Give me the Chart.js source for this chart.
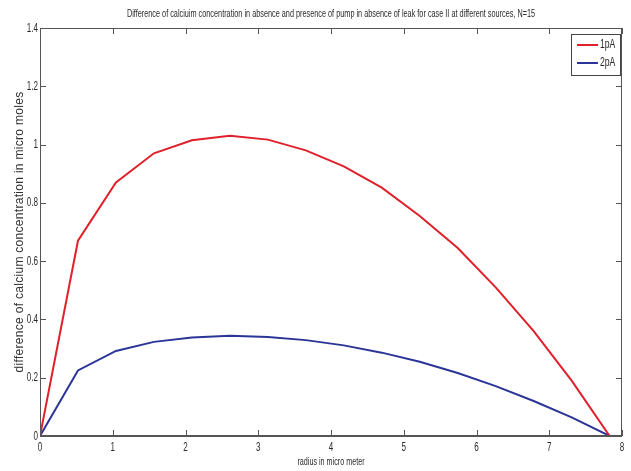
<!DOCTYPE html>
<html>
<head>
<meta charset="utf-8">
<script src="https://cdn.jsdelivr.net/npm/chart.js@4/dist/chart.umd.min.js"></script>
<style>
    html, body { margin: 0; padding: 0; background: #fff; }
    #grafico { display: block; }
</style>
</head>
<body>
<canvas id="grafico" width="631" height="471"></canvas>
<script>
// datos (N=15 -> 16 puntos)
const radio = [0, 0.522, 1.044, 1.566, 2.088, 2.61, 3.132, 3.654, 4.176, 4.698, 5.22, 5.742, 6.264, 6.786, 7.308, 7.83];
const serie1pA = [0, 0.67, 0.87, 0.97, 1.015, 1.03, 1.017, 0.98, 0.925, 0.852, 0.755, 0.645, 0.51, 0.36, 0.19, 0];
const serie2pA = [0, 0.225, 0.292, 0.323, 0.338, 0.344, 0.34, 0.329, 0.311, 0.286, 0.255, 0.216, 0.171, 0.12, 0.064, 0];
const etiquetas = ['1pA', '2pA'];
const ticksX = [0, 1, 2, 3, 4, 5, 6, 7, 8];
const ticksY = [0, 0.2, 0.4, 0.6, 0.8, 1, 1.2, 1.4];
const titulo = 'Difference of calciuim concentration in absence and presence of pump in absence of leak for case II at different sources, N=15';
const tituloX = 'radius in micro meter';
const tituloY = 'difference of calcium concentration in micro moles';

const colorEje = '#555';
const colorTexto = '#2a2a2a';

const puntos = (ys) => radio.map((x, i) => ({x: x, y: ys[i]}));

// texto angosto tipo matlab (escala horizontal)
function textoAngosto(ctx, txt, x, y, align, size, escala){
    ctx.save();
    ctx.font = size + "px 'Liberation Sans', Arial, sans-serif";
    ctx.textBaseline = 'middle'; ctx.textAlign = align;
    ctx.translate(x, y); ctx.scale(escala, 1);
    ctx.fillText(txt, 0, 0);
    ctx.restore();
}

// marco, ticks hacia adentro, etiquetas y leyenda
const marcoMatlab = {
    id: 'marcoMatlab',
    afterDraw(chart) {
        const {ctx, chartArea: a, scales} = chart;
        ctx.save();
        ctx.strokeStyle = colorEje; ctx.lineWidth = 1;
        ctx.strokeRect(a.left + 0.5, a.top + 0.5, a.right - a.left - 1, a.bottom - a.top - 1);
        ctx.beginPath();
        ticksX.forEach(v => {
            const px = Math.round(scales.x.getPixelForValue(v)) + 0.5;
            ctx.moveTo(px, a.bottom); ctx.lineTo(px, a.bottom - 6);
            ctx.moveTo(px, a.top); ctx.lineTo(px, a.top + 6);
        });
        ticksY.forEach(v => {
            const py = Math.round(scales.y.getPixelForValue(v)) + 0.5;
            ctx.moveTo(a.left, py); ctx.lineTo(a.left + 6, py);
            ctx.moveTo(a.right, py); ctx.lineTo(a.right - 6, py);
        });
        ctx.stroke();
        ctx.lineWidth = 2;
        ctx.beginPath(); ctx.moveTo(a.left, a.bottom); ctx.lineTo(a.right, a.bottom); ctx.stroke();

        // etiquetas de ticks
        ctx.fillStyle = colorTexto;
        ticksX.forEach(v => textoAngosto(ctx, String(v), scales.x.getPixelForValue(v), a.bottom + 11, 'center', 13, 0.62));
        ticksY.forEach(v => textoAngosto(ctx, String(v), a.left - 2, scales.y.getPixelForValue(v), 'right', 13, 0.62));

        // titulos
        const cx = (a.left + a.right) / 2;
        textoAngosto(ctx, titulo, cx, 14, 'center', 10, 0.73);
        textoAngosto(ctx, tituloX, cx, 462, 'center', 10, 0.72);
        ctx.save();
        ctx.translate(20, (a.top + a.bottom) / 2); ctx.rotate(-Math.PI / 2);
        ctx.font = "12px 'Liberation Sans', Arial, sans-serif";
        ctx.letterSpacing = '0.3px';
        ctx.textAlign = 'center'; ctx.textBaseline = 'middle'; ctx.fillStyle = '#333';
        ctx.fillText(tituloY, 0, 0);
        ctx.restore();

        // leyenda
        const bx = a.right - 51, by = a.top + 6, bw = 49, bh = 41;
        ctx.fillStyle = '#fff'; ctx.fillRect(bx, by, bw, bh);
        ctx.lineWidth = 1; ctx.strokeStyle = '#444';
        ctx.strokeRect(bx + 0.5, by + 0.5, bw, bh);
        chart.data.datasets.forEach((d, i) => {
            const y = by + 11 + i * 18;
            ctx.strokeStyle = d.borderColor; ctx.lineWidth = 2;
            ctx.beginPath(); ctx.moveTo(bx + 6, y); ctx.lineTo(bx + 27, y); ctx.stroke();
            ctx.fillStyle = colorTexto;
            textoAngosto(ctx, d.label, bx + 29, y, 'left', 12, 0.72);
        });
        ctx.restore();
    }
};

new Chart(document.getElementById('grafico').getContext('2d'), {
    type: 'line',
    data: {
        datasets: [
            { label: etiquetas[0], data: puntos(serie1pA), borderColor: '#e0202a', borderWidth: 2, pointRadius: 0, tension: 0 },
            { label: etiquetas[1], data: puntos(serie2pA), borderColor: '#2b3598', borderWidth: 2, pointRadius: 0, tension: 0 }
        ]
    },
    options: {
        responsive: false,
        animation: false,
        layout: { padding: { top: 28, right: 9, left: 0, bottom: 0 } },
        plugins: {
            legend: { display: false },
            tooltip: { enabled: false },
            title: { display: false }
        },
        scales: {
            x: {
                type: 'linear', min: 0, max: 8,
                afterBuildTicks: s => { s.ticks = ticksX.map(v => ({value: v})); },
                afterFit: s => { s.height = 35; },
                grid: { display: false, drawTicks: false },
                border: { display: false },
                ticks: { display: false }
            },
            y: {
                type: 'linear', min: 0, max: 1.4,
                afterBuildTicks: s => { s.ticks = ticksY.map(v => ({value: v})); },
                afterFit: s => { s.width = 40; },
                grid: { display: false, drawTicks: false },
                border: { display: false },
                ticks: { display: false }
            }
        }
    },
    plugins: [marcoMatlab]
});
</script>
</body>
</html>
